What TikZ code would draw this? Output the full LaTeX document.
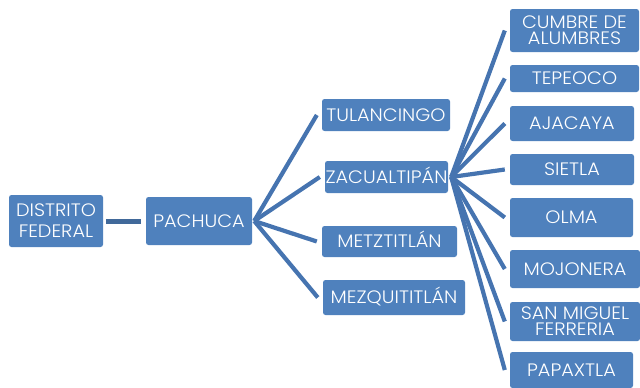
\documentclass[tikz,border=0pt]{standalone}
\usepackage{fontspec}
\setmainfont{Poppins}[UprightFont={* Light},FakeStretch=1.07]
\definecolor{boxblue}{HTML}{4F81BD}
\definecolor{lineblue}{HTML}{4674B0}
\definecolor{darkline}{HTML}{41699A}
\begin{document}
\begin{tikzpicture}[x=1pt,y=-1pt,
  bx/.style={draw=none,fill=boxblue,rounded corners=2.5pt,inner sep=0pt,text=white,
    font=\fontsize{18}{21}\selectfont,align=center,text height=12.4pt,text depth=0pt},
  bxtwo/.style={bx,font=\fontsize{18}{15.5}\selectfont,text height=27.9pt},
  conn/.style={draw=lineblue,line width=4.2pt},
  conna/.style={draw=darkline,line width=5pt}]
\useasboundingbox (0,0) rectangle (640,388);
% left
\node[bx,font=\fontsize{18}{21}\selectfont,text height=33.4pt,minimum width=94pt,minimum height=52pt] (df) at (56,221) {DISTRITO\\FEDERAL};
\node[bx,minimum width=106pt,minimum height=48pt] (pac) at (199,221) {PACHUCA};
% middle
\node[bx,minimum width=128pt,minimum height=32pt] (tul) at (386,115) {TULANCINGO};
\node[bx,minimum width=123pt,minimum height=32pt] (zac) at (386.5,177) {ZACUALTIPÁN};
\node[bx,minimum width=135pt,minimum height=31pt] (met) at (389.5,241.5) {METZTITLÁN};
\node[bx,minimum width=142pt,minimum height=35pt] (mez) at (394,297.5) {MEZQUITITLÁN};
% right
\node[bxtwo,minimum width=129pt,minimum height=43pt] (cum) at (574.5,30.5) {CUMBRE DE\\ALUMBRES};
\node[bx,minimum width=129pt,minimum height=27pt] (tep) at (574.5,78.5) {TEPEOCO};
\node[bx,minimum width=124pt,minimum height=35pt] (aja) at (572,123.5) {AJACAYA};
\node[bx,minimum width=124pt,minimum height=31pt] (sie) at (572,169.5) {SIETLA};
\node[bx,minimum width=123pt,minimum height=39pt] (olm) at (571.5,217.5) {OLMA};
\node[bx,minimum width=130pt,minimum height=38pt] (moj) at (575,269) {MOJONERA};
\node[bxtwo,minimum width=130pt,minimum height=39pt] (san) at (575,321.5) {SAN MIGUEL\\FERRERIA};
\node[bx,minimum width=123pt,minimum height=36pt] (pap) at (571.5,370) {PAPAXTLA};
% connectors
\draw[conna] ([xshift=3pt]df.east) -- ([xshift=-5pt]pac.west);
\coordinate (po) at ([xshift=2pt]pac.east);
\foreach \c in {tul,zac,met,mez}
  \draw[conn] (po) -- ([xshift=-5pt]\c.west);
\coordinate (zo) at ([xshift=3pt]zac.east);
\foreach \c in {cum,tep,aja,sie,olm,moj,san,pap}
  \draw[conn] (zo) -- ([xshift=-5pt]\c.west);
\end{tikzpicture}
\end{document}
